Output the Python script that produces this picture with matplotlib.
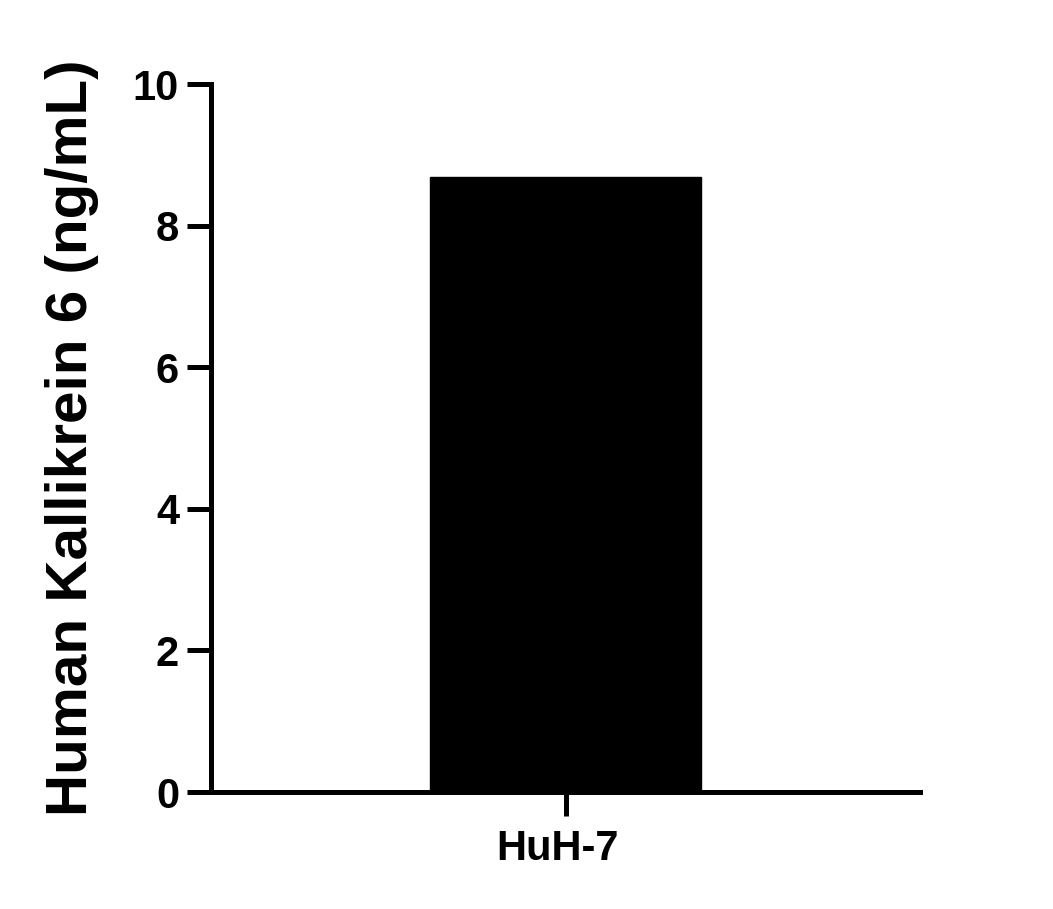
import matplotlib
matplotlib.use("Agg")
import matplotlib.pyplot as plt
import matplotlib.transforms as mtransforms

categories = ["HuH-7"]
values = [8.68]
yticks = [0, 2, 4, 6, 8, 10]

plt.rcParams['font.family'] = ['Liberation Sans', 'DejaVu Sans']
plt.rcParams['font.weight'] = 'bold'

fig = plt.figure(figsize=(10.53, 9.09), dpi=100)
ax = fig.add_axes([211/1053, 1-792/909, (920-211)/1053, (792-84)/909])

ax.bar(range(len(categories)), values, width=0.382, color='black', edgecolor='black')
ax.set_xlim(-0.5, 0.5)
ax.set_ylim(0, 10)
ax.set_yticks(yticks)
ax.set_yticklabels([str(t) for t in yticks])
ax.set_xticks(range(len(categories)))
ax.set_xticklabels(categories)

for s in ['top', 'right']:
    ax.spines[s].set_visible(False)
for s in ['left', 'bottom']:
    ax.spines[s].set_linewidth(3.6)
ax.spines['left'].set_capstyle('projecting')

ax.tick_params(axis='y', length=17, width=3.6, labelsize=30, pad=6)
ax.tick_params(axis='x', length=17, width=3.6, labelsize=30, pad=10)
for lab in ax.get_xticklabels() + ax.get_yticklabels():
    lab.set_fontweight('bold')

offset = mtransforms.ScaledTranslation(-8/100, 0, fig.dpi_scale_trans)
for lab in ax.get_xticklabels():
    lab.set_transform(lab.get_transform() + offset)

ax.set_ylabel("Human Kallikrein 6 (ng/mL)", fontsize=42, fontweight='bold', labelpad=24)

fig.savefig("out.png", dpi=100)
